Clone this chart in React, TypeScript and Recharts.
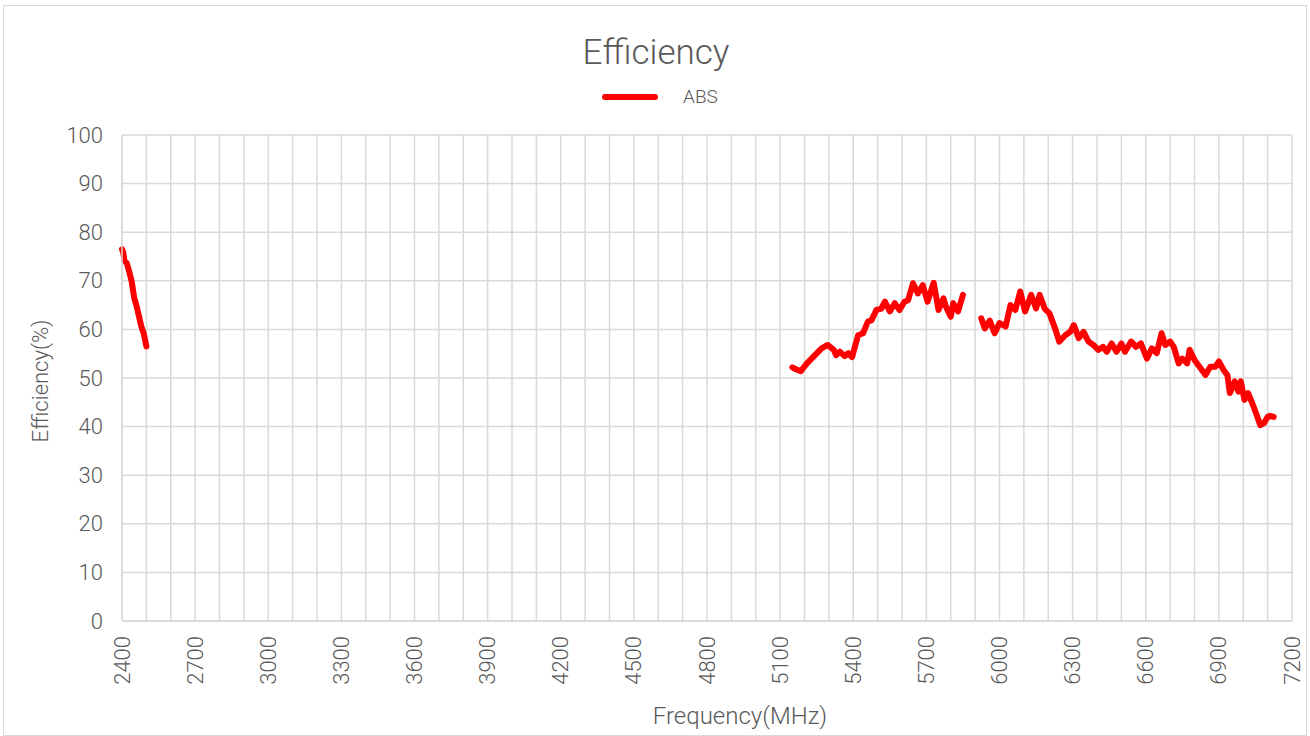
import React from 'react';
import { LineChart, Line, XAxis, YAxis, CartesianGrid, Legend } from 'recharts';

// 2.4 GHz band
const band24Freq = [2400, 2405, 2410, 2420, 2430, 2440, 2450, 2460, 2470, 2480, 2490, 2500];
const band24Eff = [76.5, 75.8, 74.2, 73.6, 71.8, 69.8, 66.5, 64.8, 62.6, 60.5, 59.0, 56.5];

// 5 GHz band
const band5Freq = [
  5150, 5165, 5185, 5210, 5235, 5270, 5295, 5320, 5330, 5345, 5365, 5380, 5395,
  5420, 5440, 5460, 5475, 5495, 5515, 5530, 5550, 5570, 5590, 5610, 5625, 5645,
  5665, 5685, 5705, 5730, 5750, 5770, 5780, 5800, 5810, 5830, 5850,
];
const band5Eff = [
  52.2, 51.8, 51.4, 53.0, 54.3, 56.1, 56.8, 55.8, 54.7, 55.4, 54.5, 55.1, 54.3,
  58.8, 59.2, 61.6, 61.9, 64.0, 64.3, 65.7, 63.7, 65.4, 64.0, 65.7, 66.0, 69.5,
  67.4, 69.1, 65.7, 69.6, 64.0, 66.4, 64.7, 62.6, 65.4, 63.7, 67.1,
];

// 6 GHz band
const band6Freq = [
  5925, 5940, 5960, 5980, 6000, 6025, 6045, 6065, 6085, 6105, 6130, 6150, 6165,
  6185, 6205, 6230, 6245, 6270, 6290, 6305, 6325, 6345, 6365, 6385, 6405, 6425,
  6440, 6460, 6480, 6500, 6515, 6540, 6560, 6580, 6605, 6625, 6645, 6665, 6680,
  6700, 6715, 6735, 6750, 6770, 6780, 6800, 6825, 6845, 6865, 6885, 6900, 6920,
  6935, 6945, 6965, 6980, 6990, 7005, 7020, 7040, 7055, 7070, 7085, 7100, 7110, 7125,
];
const band6Eff = [
  62.3, 60.2, 61.8, 59.2, 61.3, 60.6, 65.0, 64.0, 67.8, 63.7, 67.1, 64.3, 67.1,
  64.3, 63.3, 59.9, 57.5, 58.8, 59.5, 60.9, 58.2, 59.5, 57.5, 56.8, 55.8, 56.4,
  55.4, 57.1, 55.4, 57.1, 55.4, 57.5, 56.4, 57.1, 54.0, 56.1, 55.1, 59.2, 56.8,
  57.5, 56.4, 53.0, 54.0, 53.0, 55.8, 53.7, 52.0, 50.6, 52.3, 52.3, 53.4, 51.6,
  50.6, 46.9, 49.3, 47.2, 49.3, 45.5, 46.9, 44.4, 42.4, 40.3, 40.7, 42.0, 42.2, 42.0,
];

const freqLabels = [2400, 2700, 3000, 3300, 3600, 3900, 4200, 4500, 4800, 5100, 5400, 5700, 6000, 6300, 6600, 6900, 7200];
const effTicks = [0, 10, 20, 30, 40, 50, 60, 70, 80, 90, 100];

// grid every 100 MHz, labels every 300 MHz
const gridTicks: number[] = [];
for (let f = 2400; f <= 7200; f += 100) gridTicks.push(f);

const toRows = (fs: number[], es: number[]) => fs.map((f, i) => ({ freq: f, eff: es[i] }));
const data = [
  ...toRows(band24Freq, band24Eff),
  { freq: 3800, eff: null },
  ...toRows(band5Freq, band5Eff),
  { freq: 5890, eff: null },
  ...toRows(band6Freq, band6Eff),
];

const FONT = 'Roboto, "Liberation Sans", sans-serif';
const TEXT = '#595959';
const GRID = '#d9d9d9';

const FreqTick = (props: any) => {
  const { x, y, payload } = props;
  if (!freqLabels.includes(payload.value)) return <g />;
  const ty = y + 15;
  return (
    <text x={x} y={ty} transform={`rotate(-90 ${x} ${ty})`} textAnchor="end" dominantBaseline="central"
      fill={TEXT} fontSize={22} fontFamily={FONT} fontWeight={300}>
      {payload.value}
    </text>
  );
};

const EffTick = (props: any) => {
  const { x, y, payload } = props;
  return (
    <text x={x - 19} y={y} textAnchor="end" dominantBaseline="central"
      fill={TEXT} fontSize={22} fontFamily={FONT} fontWeight={300}>
      {payload.value}
    </text>
  );
};

const LegendContent = () => (
  <div style={{ display: 'flex', justifyContent: 'center', alignItems: 'center', paddingLeft: 10 }}>
    <div style={{ width: 56, height: 6, borderRadius: 3, background: '#ff0000' }} />
    <span style={{ marginLeft: 25, fontSize: 19, color: TEXT, fontFamily: FONT, fontWeight: 300 }}>ABS</span>
  </div>
);

export default function App() {
  return (
    <div style={{ position: 'absolute', left: 3, top: 5, width: 1302, height: 729, border: `1px solid ${GRID}`, background: '#fff' }}>
      <div style={{ position: 'absolute', left: 0, top: 30, width: 1304, textAlign: 'center', fontSize: 35, lineHeight: '34px',
        color: TEXT, fontFamily: FONT, fontWeight: 300 }}>
        Efficiency
      </div>
      <LineChart width={1304} height={730} data={data} margin={{ top: 130, right: 15, left: 0, bottom: 0 }}
        style={{ position: 'absolute', left: -1, top: -1 }}>
        <CartesianGrid stroke={GRID} strokeWidth={1.5} />
        <XAxis dataKey="freq" type="number" domain={[2400, 7200]} ticks={gridTicks} interval={0}
          height={114} tickSize={0} tickMargin={0} axisLine={{ stroke: GRID, strokeWidth: 1.5 }} tickLine={false}
          tick={<FreqTick />}
          label={{
            content: (p: any) => {
              const vb = p.viewBox;
              return (
                <text x={vb.x + vb.width / 2 + 33} y={711} textAnchor="middle" dominantBaseline="central"
                  fill={TEXT} fontSize={24} fontFamily={FONT} fontWeight={300}>Frequency(MHz)</text>
              );
            },
          }} />
        <YAxis type="number" domain={[0, 100]} ticks={effTicks} interval={0} width={119} tickSize={0} tickMargin={0}
          axisLine={{ stroke: GRID, strokeWidth: 1.5 }} tickLine={false} tick={<EffTick />}
          label={{
            content: (p: any) => {
              const vb = p.viewBox;
              const cy = vb.y + vb.height / 2 + 3;
              return (
                <text x={37} y={cy} transform={`rotate(-90 37 ${cy})`} textAnchor="middle" dominantBaseline="central"
                  fill={TEXT} fontSize={22} fontFamily={FONT} fontWeight={300}>Efficiency(%)</text>
              );
            },
          }} />
        <Legend layout="horizontal" verticalAlign="middle" align="center" content={<LegendContent />}
          wrapperStyle={{ top: 80, left: 0, width: 1304, height: 24 }} />
        <Line name="ABS" dataKey="eff" type="linear" stroke="#ff0000" strokeWidth={6} dot={false} activeDot={false}
          strokeLinejoin="round" strokeLinecap="round" connectNulls={false} isAnimationActive={false} />
      </LineChart>
    </div>
  );
}
